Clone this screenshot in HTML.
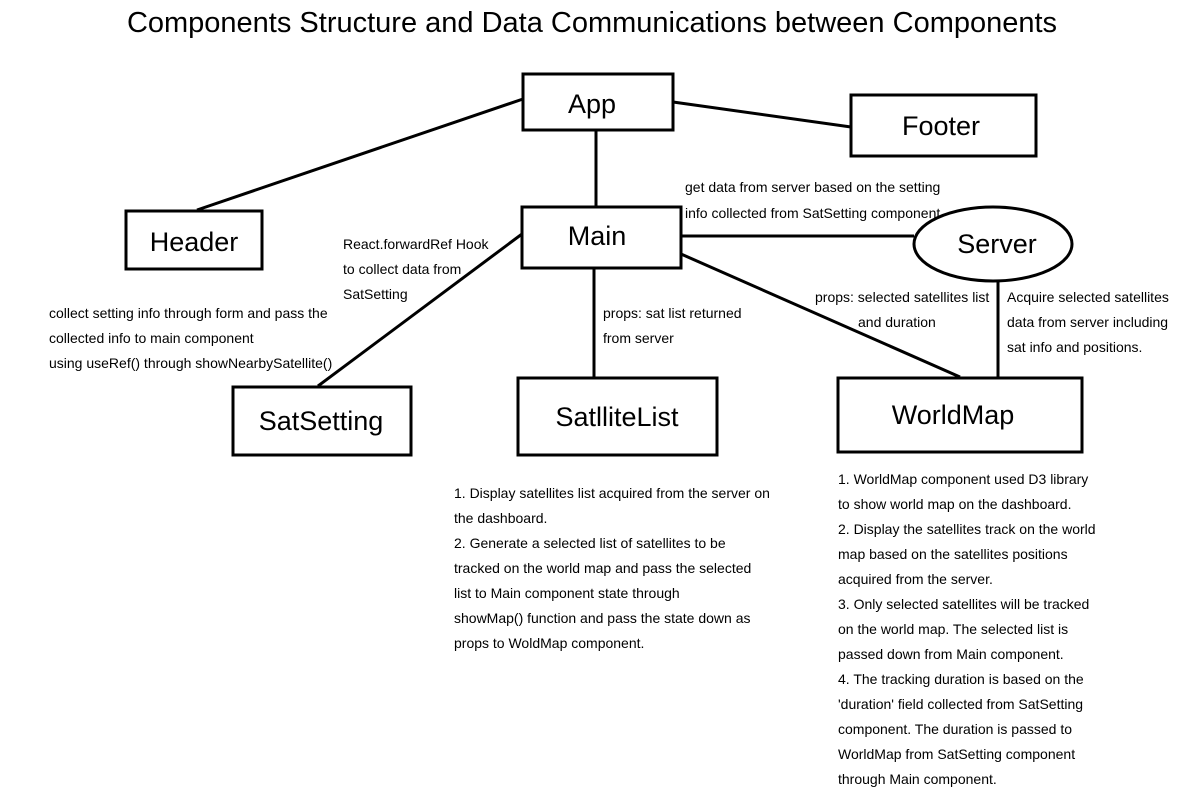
<!DOCTYPE html>
<html><head><meta charset="utf-8"><style>
body{margin:0;background:#fff;}
svg{display:block;}
text{font-family:"Liberation Sans","Noto Sans CJK SC",sans-serif;fill:#000;}
.b{font-size:27px;text-anchor:middle;}
.s{font-size:14px;}
</style></head><body>
<svg width="1184" height="809" viewBox="0 0 1184 809">
<text x="592" y="32" font-size="29" text-anchor="middle">Components Structure and Data Communications between Components</text>
<g stroke="#000" stroke-width="3" fill="none">
<line x1="523" y1="99" x2="197" y2="210"/>
<line x1="673" y1="102" x2="851" y2="127"/>
<line x1="596" y1="130" x2="596" y2="206"/>
<line x1="522" y1="234" x2="318" y2="386"/>
<line x1="594" y1="268" x2="594" y2="377"/>
<line x1="681" y1="236" x2="914" y2="236"/>
<line x1="681" y1="254" x2="960" y2="377"/>
<line x1="998" y1="282" x2="998" y2="377"/>
<rect x="523" y="74" width="150" height="56" fill="#fff"/>
<rect x="851" y="95" width="185" height="61" fill="#fff"/>
<rect x="522" y="207" width="159" height="61" fill="#fff"/>
<ellipse cx="993" cy="244" rx="79" ry="37" fill="#fff"/>
<rect x="126" y="211" width="136" height="58" fill="#fff"/>
<rect x="233" y="387" width="178" height="68" fill="#fff"/>
<rect x="518" y="378" width="199" height="77" fill="#fff"/>
<rect x="838" y="378" width="244" height="74" fill="#fff"/>
</g>
<text class="b" x="592" y="113">App</text>
<text class="b" x="941" y="135">Footer</text>
<text class="b" x="597" y="245">Main</text>
<text class="b" x="997" y="253">Server</text>
<text class="b" x="194" y="251">Header</text>
<text class="b" x="321" y="430">SatSetting</text>
<text class="b" x="617" y="426">SatlliteList</text>
<text class="b" x="953" y="424">WorldMap</text>
<g class="s">
<text class="s" x="685" y="192">get data from server based on the setting</text>
<text class="s" x="685" y="218">info collected from SatSetting component</text>
<text class="s" x="343" y="249">React.forwardRef Hook</text>
<text class="s" x="343" y="274">to collect data from</text>
<text class="s" x="343" y="299">SatSetting</text>
<text class="s" x="49" y="318">collect setting info through form and pass the</text>
<text class="s" x="49" y="343">collected info to main component</text>
<text class="s" x="49" y="368">using useRef() through showNearbySatellite()</text>
<text class="s" x="603" y="318">props:  sat list returned</text>
<text class="s" x="603" y="343">from server</text>
<text class="s" x="815" y="302">props: selected satellites list</text>
<text class="s" x="858" y="327">and duration</text>
<text class="s" x="1007" y="302">Acquire selected satellites</text>
<text class="s" x="1007" y="327">data from server including</text>
<text class="s" x="1007" y="352">sat info and positions.</text>
<text class="s" x="454" y="498">1. Display satellites list acquired from the server on</text>
<text class="s" x="454" y="523">the dashboard.</text>
<text class="s" x="454" y="548">2. Generate a selected list of satellites to be</text>
<text class="s" x="454" y="573">tracked on the world map and pass the selected</text>
<text class="s" x="454" y="598">list to Main component state through</text>
<text class="s" x="454" y="623">showMap() function and pass the state down as</text>
<text class="s" x="454" y="648">props to WoldMap component.</text>
<text class="s" x="838" y="484">1. WorldMap component used D3 library</text>
<text class="s" x="838" y="509">to show world map on the dashboard.</text>
<text class="s" x="838" y="534">2. Display the satellites track on the world</text>
<text class="s" x="838" y="559">map based on the satellites positions</text>
<text class="s" x="838" y="584">acquired from the server.</text>
<text class="s" x="838" y="609">3. Only selected satellites will be tracked</text>
<text class="s" x="838" y="634">on the world map. The selected list is</text>
<text class="s" x="838" y="659">passed down from Main component.</text>
<text class="s" x="838" y="684">4.  The tracking duration is based on the</text>
<text class="s" x="838" y="709">'duration' field collected from SatSetting</text>
<text class="s" x="838" y="734">component. The duration is passed to</text>
<text class="s" x="838" y="759">WorldMap from SatSetting component</text>
<text class="s" x="838" y="784">through Main component.</text>
</g>
</svg>
</body></html>
